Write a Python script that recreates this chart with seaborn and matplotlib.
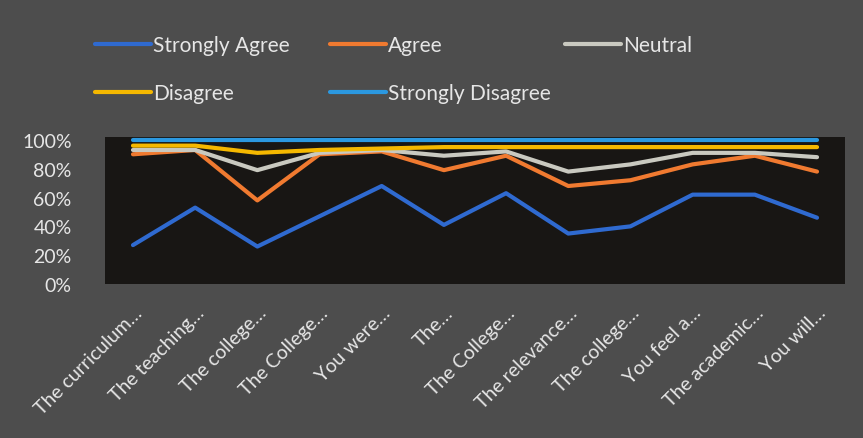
import pandas as pd
import matplotlib
matplotlib.use('Agg')
import matplotlib.pyplot as plt
import seaborn as sns
from matplotlib.ticker import PercentFormatter

items = ['The curriculum…', 'The teaching…', 'The college…', 'The College…', 'You were…', 'The…',
         'The College…', 'The relevance…', 'The college…', 'You feel a…', 'The academic…', 'You will…']

# cumulative shares
strongly_agree = [0.27, 0.53, 0.26, 0.47, 0.68, 0.41, 0.63, 0.35, 0.40, 0.62, 0.62, 0.46]
agree = [0.90, 0.93, 0.58, 0.90, 0.92, 0.79, 0.89, 0.68, 0.72, 0.83, 0.89, 0.78]
neutral = [0.93, 0.93, 0.79, 0.91, 0.93, 0.89, 0.92, 0.78, 0.83, 0.91, 0.91, 0.88]
disagree = [0.96, 0.96, 0.91, 0.93, 0.94, 0.95, 0.95, 0.95, 0.95, 0.95, 0.95, 0.95]
strongly_disagree = [1.00] * 12

series = ['Strongly Agree', 'Agree', 'Neutral', 'Disagree', 'Strongly Disagree']
colors = ['#2f6ad0', '#f07a30', '#c9c9c0', '#f5b800', '#2b98e0']

rows = []
for name, vals in zip(series, [strongly_agree, agree, neutral, disagree, strongly_disagree]):
    for i, v in enumerate(vals):
        rows.append({'pos': i, 'series': name, 'value': v})
df = pd.DataFrame(rows)

sns.set_style('dark')
plt.rcParams['font.family'] = ['Lato', 'DejaVu Sans']
txt = '#e6e6e6'

fig = plt.figure(figsize=(8.63, 4.39), dpi=100, facecolor='#4d4d4d')
ax = fig.add_axes([105 / 863, 1 - 285 / 439, 740 / 863, 147 / 439])
ax.set_facecolor('#181614')

sns.lineplot(data=df, x='pos', y='value', hue='series', hue_order=series,
             palette=colors, linewidth=3, ax=ax, legend=False)

ax.set_xlim(-0.45, 11.45)
ax.set_ylim(0, 1.02)
ax.set_yticks([0, 0.2, 0.4, 0.6, 0.8, 1.0])
ax.yaxis.set_major_formatter(PercentFormatter(1.0, decimals=0))
ax.set_xticks(range(len(items)))
ax.set_xticklabels(items, rotation=45, ha='right', rotation_mode='anchor')
ax.tick_params(axis='y', labelsize=14, colors=txt, pad=24, length=0)
ax.tick_params(axis='x', labelsize=14, colors=txt, pad=14, length=0)
ax.set_xlabel('')
ax.set_ylabel('')
ax.grid(False)
for s in ax.spines.values():
    s.set_visible(False)

handles = [plt.Line2D([], [], color=c, lw=3) for c in colors]
cols = [([0, 3], 95), ([1, 4], 330), ([2], 565)]
for idx, x0 in cols:
    fig.legend([handles[i] for i in idx], [series[i] for i in idx],
               loc='upper left', bbox_to_anchor=(x0 / 863, 1 - 36 / 439),
               frameon=False, fontsize=15, labelcolor=txt, handlelength=2.7,
               handletextpad=0.1, labelspacing=1.35, borderaxespad=0, borderpad=0)

fig.savefig('out.png', dpi=100, facecolor=fig.get_facecolor())
